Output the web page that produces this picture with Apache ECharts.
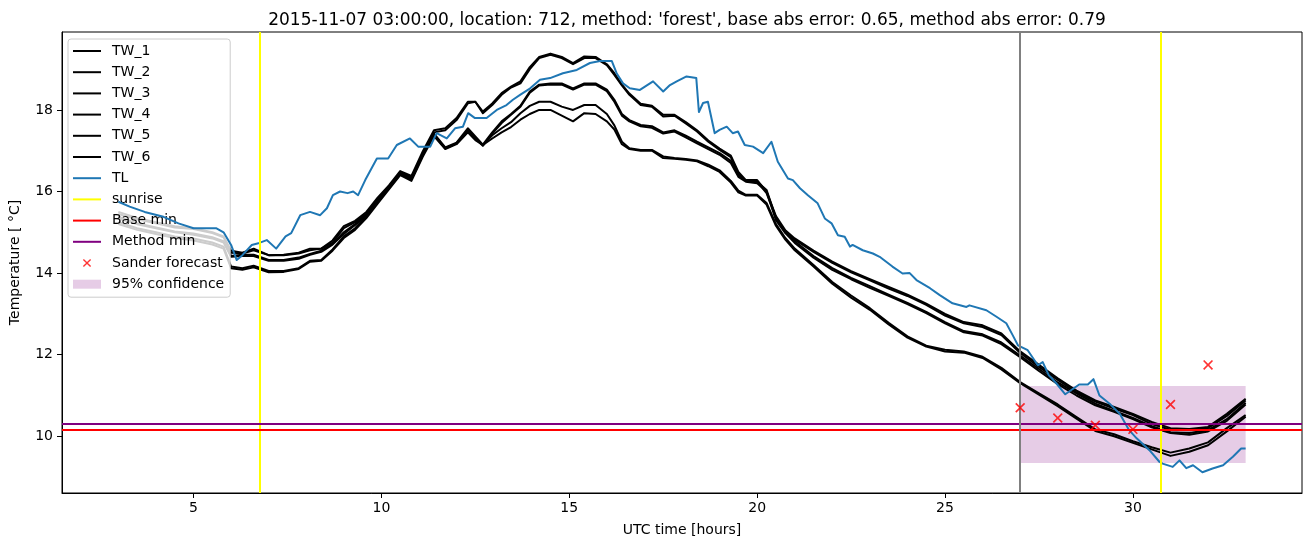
<!DOCTYPE html>
<html>
<head>
<meta charset="utf-8">
<script src="https://cdn.jsdelivr.net/npm/echarts@6/dist/echarts.min.js"></script>
<style>
  html, body { margin: 0; padding: 0; background: #fff; }
  #chart { width: 1311px; height: 547px; }
</style>
</head>
<body>
<div id="chart"></div>
<script>
// ---- data ----
const titleText = "2015-11-07 03:00:00, location: 712, method: 'forest', base abs error: 0.65, method abs error: 0.79";
const xTicks = [5, 10, 15, 20, 25, 30];
const yTicks = [10, 12, 14, 16, 18];

const twHours = [3, 3.5, 4, 4.5, 5, 5.5, 5.8, 6.0, 6.3, 6.6,
  7.0, 7.4, 7.8, 8.1, 8.4, 8.7, 9.0, 9.3, 9.6, 9.9,
  10.2, 10.5, 10.8, 11.1, 11.4, 11.7, 12.0, 12.3, 12.5, 12.7,
  12.95, 13.2, 13.45, 13.7, 13.95, 14.2, 14.5, 14.8, 15.1, 15.4,
  15.7, 16.0, 16.2, 16.4, 16.6, 16.9, 17.2, 17.5, 17.8, 18.1,
  18.4, 18.7, 19.0, 19.3, 19.5, 19.7, 20.0, 20.25, 20.5, 20.75,
  21.0, 21.5, 22.0, 22.5, 23.0, 23.5, 24.0, 24.5, 25.0, 25.5,
  26.0, 26.5, 27.0, 27.5, 28.0, 28.5, 29.0, 29.5, 30.0, 30.5,
  31.0, 31.5, 32.0, 32.5, 33.0];

const tw1 = [15.5, 15.35, 15.25, 15.15, 15.1, 15.0, 14.9, 14.55, 14.5, 14.6,
  14.44, 14.45, 14.5, 14.6, 14.6, 14.8, 15.15, 15.28, 15.5, 15.85,
  16.15, 16.5, 16.38, 16.98, 17.5, 17.55, 17.8, 18.2, 18.2, 17.96,
  18.16, 18.41, 18.57, 18.7, 19.05, 19.3, 19.38, 19.3, 19.15, 19.31,
  19.3, 19.12, 18.9, 18.62, 18.4, 18.15, 18.1, 17.88, 17.88, 17.7,
  17.5, 17.25, 17.05, 16.88, 16.48, 16.28, 16.28, 16.0, 15.4, 15.05,
  14.85, 14.55, 14.28, 14.05, 13.85, 13.66, 13.47, 13.25, 13.0, 12.8,
  12.72, 12.52, 12.08, 11.75, 11.42, 11.12, 10.88, 10.72, 10.55, 10.35,
  10.2, 10.18, 10.23, 10.55, 10.92];
const tw2 = [15.45, 15.32, 15.22, 15.12, 15.08, 14.98, 14.88, 14.5, 14.48, 14.56,
  14.44, 14.44, 14.48, 14.56, 14.6, 14.75, 15.1, 15.25, 15.45, 15.8,
  16.12, 16.46, 16.36, 16.9, 17.45, 17.5, 17.75, 18.16, 18.2, 17.92,
  18.12, 18.37, 18.55, 18.65, 19.0, 19.27, 19.35, 19.27, 19.12, 19.27,
  19.27, 19.1, 18.86, 18.6, 18.37, 18.12, 18.08, 17.84, 17.86, 17.67,
  17.47, 17.22, 17.02, 16.84, 16.44, 16.26, 16.24, 15.96, 15.36, 15.02,
  14.82, 14.52, 14.25, 14.02, 13.82, 13.62, 13.44, 13.22, 12.96, 12.77,
  12.68, 12.48, 12.04, 11.7, 11.38, 11.08, 10.85, 10.68, 10.52, 10.3,
  10.16, 10.15, 10.2, 10.5, 10.88];
const tw3 = [15.38, 15.22, 15.12, 15.02, 14.97, 14.88, 14.78, 14.42, 14.45, 14.45,
  14.32, 14.32, 14.38, 14.47, 14.55, 14.72, 15.0, 15.2, 15.45, 15.82,
  16.12, 16.45, 16.33, 16.92, 17.42, 17.08, 17.2, 17.55, 17.35, 17.15,
  17.45, 17.72, 17.9, 18.1, 18.45, 18.62, 18.65, 18.65, 18.53, 18.65,
  18.65, 18.5, 18.25, 17.9, 17.75, 17.63, 17.6, 17.45, 17.5, 17.37,
  17.22, 17.08, 16.94, 16.75, 16.4, 16.27, 16.24, 16.04, 15.35, 15.02,
  14.78, 14.42, 14.12, 13.88, 13.68, 13.47, 13.27, 13.05, 12.8, 12.58,
  12.5, 12.3, 11.98, 11.65, 11.32, 11.05, 10.8, 10.62, 10.45, 10.25,
  10.1, 10.08, 10.15, 10.42, 10.82];
const tw4 = [15.34, 15.2, 15.1, 15.0, 14.94, 14.85, 14.75, 14.4, 14.42, 14.42,
  14.3, 14.3, 14.35, 14.45, 14.52, 14.7, 14.96, 15.18, 15.42, 15.78,
  16.1, 16.42, 16.3, 16.88, 17.4, 17.06, 17.18, 17.5, 17.3, 17.12,
  17.42, 17.68, 17.88, 18.08, 18.42, 18.6, 18.62, 18.62, 18.5, 18.62,
  18.62, 18.46, 18.2, 17.86, 17.72, 17.6, 17.56, 17.42, 17.47, 17.33,
  17.18, 17.04, 16.9, 16.7, 16.36, 16.24, 16.2, 16.0, 15.3, 14.98,
  14.74, 14.38, 14.08, 13.85, 13.64, 13.44, 13.24, 13.02, 12.77, 12.55,
  12.47, 12.26, 11.94, 11.6, 11.28, 11.0, 10.76, 10.6, 10.42, 10.22,
  10.08, 10.04, 10.12, 10.38, 10.78];
const tw5 = [15.25, 15.1, 15.0, 14.9, 14.85, 14.75, 14.65, 14.16, 14.12, 14.18,
  14.05, 14.05, 14.12, 14.3, 14.32, 14.58, 14.9, 15.1, 15.4, 15.75,
  16.08, 16.42, 16.3, 16.9, 17.38, 17.06, 17.18, 17.5, 17.3, 17.14,
  17.38, 17.55, 17.7, 17.92, 18.1, 18.2, 18.2, 18.08, 18.0, 18.12,
  18.12, 17.9, 17.62, 17.22, 17.06, 17.02, 17.02, 16.86, 16.82, 16.8,
  16.76, 16.66, 16.52, 16.26, 16.02, 15.92, 15.92, 15.72, 15.2, 14.86,
  14.6, 14.2, 13.78, 13.45, 13.14, 12.78, 12.45, 12.22, 12.12, 12.08,
  11.95, 11.68, 11.33, 11.05, 10.78, 10.47, 10.17, 10.05, 9.88, 9.73,
  9.6, 9.7, 9.85, 10.2, 10.52];
const tw6 = [15.2, 15.06, 14.96, 14.86, 14.8, 14.7, 14.6, 14.12, 14.08, 14.14,
  14.02, 14.03, 14.1, 14.28, 14.3, 14.55, 14.86, 15.06, 15.35, 15.7,
  16.05, 16.4, 16.26, 16.85, 17.36, 17.04, 17.16, 17.45, 17.26, 17.14,
  17.3, 17.45, 17.58, 17.76, 17.9, 18.0, 18.0, 17.86, 17.72, 17.92,
  17.9, 17.72, 17.52, 17.16, 17.04, 17.0, 17.0, 16.82, 16.8, 16.78,
  16.74, 16.62, 16.48, 16.22, 15.98, 15.9, 15.9, 15.68, 15.16, 14.82,
  14.56, 14.16, 13.74, 13.4, 13.1, 12.74, 12.42, 12.2, 12.08, 12.05,
  11.92, 11.64, 11.3, 11.02, 10.74, 10.43, 10.13, 10.0, 9.84, 9.68,
  9.52, 9.62, 9.78, 10.12, 10.48];

const tlHours = [3.0, 3.3, 3.7, 4.2, 4.6, 5.0, 5.4, 5.6, 5.8, 6.0,
  6.15, 6.3, 6.55, 6.75, 6.95, 7.2, 7.45, 7.6, 7.84, 8.1,
  8.37, 8.55, 8.71, 8.9, 9.1, 9.25, 9.38, 9.57, 9.88, 10.18,
  10.41, 10.76, 10.98, 11.3, 11.47, 11.74, 11.96, 12.17, 12.31, 12.49,
  12.8, 13.07, 13.33, 13.5, 13.69, 13.96, 14.22, 14.49, 14.83, 15.2,
  15.55, 15.82, 16.13, 16.26, 16.43, 16.61, 16.88, 17.23, 17.5, 17.68,
  17.86, 18.12, 18.38, 18.45, 18.56, 18.69, 18.87, 19.0, 19.19, 19.35,
  19.49, 19.67, 19.89, 20.16, 20.38, 20.55, 20.82, 20.95, 21.14, 21.35,
  21.61, 21.8, 21.98, 22.15, 22.33, 22.47, 22.54, 22.81, 23.08, 23.26,
  23.6, 23.87, 24.06, 24.24, 24.6, 24.86, 25.2, 25.57, 25.65, 26.1,
  26.37, 26.63, 26.8, 26.94, 27.2, 27.47, 27.6, 27.76, 27.96, 28.2,
  28.57, 28.8, 28.95, 29.11, 29.38, 29.65, 29.9, 30.1, 30.44, 30.71,
  30.79, 31.06, 31.24, 31.42, 31.6, 31.85, 32.12, 32.4, 32.66, 32.88,
  33.0];
const tlValues = [15.75, 15.63, 15.5, 15.38, 15.22, 15.1, 15.1, 15.1, 15.0, 14.69,
  14.32, 14.44, 14.69, 14.74, 14.81, 14.6, 14.9, 14.98, 15.42, 15.5,
  15.42, 15.59, 15.91, 16.0, 15.96, 16.0, 15.91, 16.28, 16.81, 16.81,
  17.14, 17.3, 17.1, 17.1, 17.43, 17.3, 17.55, 17.59, 17.92, 17.8,
  17.8, 18.0, 18.12, 18.25, 18.37, 18.53, 18.74, 18.78, 18.9, 18.98,
  19.15, 19.2, 19.2, 18.9, 18.65, 18.53, 18.49, 18.7, 18.45, 18.61,
  18.7, 18.82, 18.78, 17.95, 18.17, 18.2, 17.43, 17.51, 17.59, 17.43,
  17.47, 17.14, 17.1, 16.94, 17.22, 16.73, 16.32, 16.28, 16.08, 15.91,
  15.71, 15.34, 15.22, 14.93, 14.89, 14.65, 14.69, 14.56, 14.48, 14.4,
  14.16, 13.99, 14.0, 13.83, 13.63, 13.46, 13.26, 13.17, 13.21, 13.09,
  12.93, 12.77, 12.48, 12.23, 12.11, 11.74, 11.82, 11.5, 11.3, 11.03,
  11.27, 11.27, 11.4, 11.0, 10.8, 10.55, 10.15, 9.95, 9.66, 9.37,
  9.33, 9.25, 9.41, 9.22, 9.29, 9.12, 9.21, 9.29, 9.5, 9.7,
  9.7];

const sunriseHours = [6.75, 30.75];
const forecastStart = 27;
const baseMin = 10.155;
const methodMin = 10.3;
const sanderHours = [27, 28, 29, 30, 31, 32];
const sanderValues = [10.70, 10.45, 10.27, 10.17, 10.78, 11.75];
const bandStart = 27, bandEnd = 33, bandLow = 9.345, bandHigh = 11.23;

// ---- chart ----
const FONT = 'DejaVu Sans';
const lineIcon = 'path://M0,0M28,9M0,3.5L28,3.5L28,5.5L0,5.5Z';
const xMark = 'path://M0,1.2L1.2,0L5,3.8L8.8,0L10,1.2L6.2,5L10,8.8L8.8,10L5,6.2L1.2,10L0,8.8L3.8,5Z';
const xMarkLegend = 'path://M-0.5,-0.5M10.5,10.5M0,1.2L1.2,0L5,3.8L8.8,0L10,1.2L6.2,5L10,8.8L8.8,10L5,6.2L1.2,10L0,8.8L3.8,5Z';
const bandColor = 'rgba(128,0,128,0.2)';

function pairs(xs, ys) {
  return xs.map((x, i) => [x, ys[i]]);
}

function twSeries(name, values) {
  return {
    name: name,
    type: 'line',
    data: pairs(twHours, values),
    symbol: 'none',
    z: 3,
    lineStyle: { color: '#000', width: 2, join: 'round' },
    itemStyle: { color: '#000' },
    emphasis: { disabled: true }
  };
}

function refLine(name, color, axis, values, z) {
  return {
    name: name,
    type: 'line',
    data: [],
    z: z,
    itemStyle: { color: color },
    lineStyle: { color: color },
    markLine: {
      silent: true,
      symbol: 'none',
      label: { show: false },
      emphasis: { disabled: true },
      lineStyle: { color: color, width: 2, type: 'solid' },
      data: values.map(v => ({ [axis]: v }))
    }
  };
}

const chart = echarts.init(document.getElementById('chart'));

const option = {
  animation: false,
  title: {
    text: titleText,
    left: 682,
    top: 7,
    textAlign: 'center',
    textStyle: { fontFamily: FONT, fontSize: 17, fontWeight: 'normal', color: '#000' }
  },
  grid: {
    left: 62, top: 32, width: 1240, height: 461,
    show: true, borderColor: '#000', borderWidth: 1
  },
  legend: {
    orient: 'vertical',
    left: 68,
    top: 39,
    itemWidth: 28,
    itemHeight: 9,
    itemGap: 7.2,
    padding: [5, 6, 6, 5],
    selectedMode: false,
    backgroundColor: 'rgba(255,255,255,0.8)',
    borderColor: '#cccccc',
    borderWidth: 1,
    borderRadius: 3,
    textStyle: { fontFamily: FONT, fontSize: 14, color: '#000', padding: [0, 0, 0, 6] },
    data: [
      { name: 'TW_1', icon: lineIcon, itemStyle: { color: '#000' } },
      { name: 'TW_2', icon: lineIcon, itemStyle: { color: '#000' } },
      { name: 'TW_3', icon: lineIcon, itemStyle: { color: '#000' } },
      { name: 'TW_4', icon: lineIcon, itemStyle: { color: '#000' } },
      { name: 'TW_5', icon: lineIcon, itemStyle: { color: '#000' } },
      { name: 'TW_6', icon: lineIcon, itemStyle: { color: '#000' } },
      { name: 'TL', icon: lineIcon, itemStyle: { color: '#1f77b4' } },
      { name: 'sunrise', icon: lineIcon, itemStyle: { color: '#ffff00' } },
      { name: 'Base min', icon: lineIcon, itemStyle: { color: '#ff0000' } },
      { name: 'Method min', icon: lineIcon, itemStyle: { color: '#800080' } },
      { name: 'Sander forecast', icon: xMarkLegend, itemStyle: { color: '#ff0000' } },
      { name: '95% confidence', icon: 'path://M0,0L28,0L28,9L0,9Z', itemStyle: { color: bandColor } }
    ]
  },
  xAxis: {
    type: 'value',
    min: 1.5,
    max: 34.5,
    name: 'UTC time [hours]',
    nameLocation: 'middle',
    nameGap: 30,
    nameTextStyle: { fontFamily: FONT, fontSize: 14, color: '#000' },
    splitLine: { show: false },
    axisLine: { show: true, onZero: false, lineStyle: { color: '#000', width: 1 } },
    axisTick: { show: true, length: 5, lineStyle: { color: '#000' }, customValues: xTicks },
    axisLabel: { fontFamily: FONT, fontSize: 14, color: '#000', margin: 8, customValues: xTicks }
  },
  yAxis: {
    type: 'value',
    min: 8.61,
    max: 19.91,
    name: 'Temperature [ °C]',
    nameLocation: 'middle',
    nameGap: 40,
    nameTextStyle: { fontFamily: FONT, fontSize: 14, color: '#000' },
    splitLine: { show: false },
    axisLine: { show: true, onZero: false, lineStyle: { color: '#000', width: 1 } },
    axisTick: { show: true, length: 5, lineStyle: { color: '#000' }, customValues: yTicks },
    axisLabel: { fontFamily: FONT, fontSize: 14, color: '#000', margin: 9, customValues: yTicks }
  },
  series: [
    {
      name: '95% confidence',
      type: 'line',
      data: [],
      z: 1,
      itemStyle: { color: bandColor },
      markArea: {
        silent: true,
        itemStyle: { color: bandColor },
        data: [[{ xAxis: bandStart, yAxis: bandLow }, { xAxis: bandEnd, yAxis: bandHigh }]]
      }
    },
    twSeries('TW_1', tw1),
    twSeries('TW_2', tw2),
    twSeries('TW_3', tw3),
    twSeries('TW_4', tw4),
    twSeries('TW_5', tw5),
    twSeries('TW_6', tw6),
    {
      name: 'TL',
      type: 'line',
      data: pairs(tlHours, tlValues),
      symbol: 'none',
      z: 4,
      lineStyle: { color: '#1f77b4', width: 2, join: 'round' },
      itemStyle: { color: '#1f77b4' },
      emphasis: { disabled: true }
    },
    refLine('sunrise', '#ffff00', 'xAxis', sunriseHours, 5),
    refLine('Base min', '#ff0000', 'yAxis', [baseMin], 5),
    refLine('Method min', '#800080', 'yAxis', [methodMin], 5),
    refLine('forecast time', '#808080', 'xAxis', [forecastStart], 5),
    {
      name: 'Sander forecast',
      type: 'scatter',
      data: pairs(sanderHours, sanderValues),
      symbol: xMark,
      symbolSize: 10,
      z: 6,
      itemStyle: { color: '#ff0000' },
      emphasis: { disabled: true }
    }
  ]
};

chart.setOption(option);
</script>
</body>
</html>
